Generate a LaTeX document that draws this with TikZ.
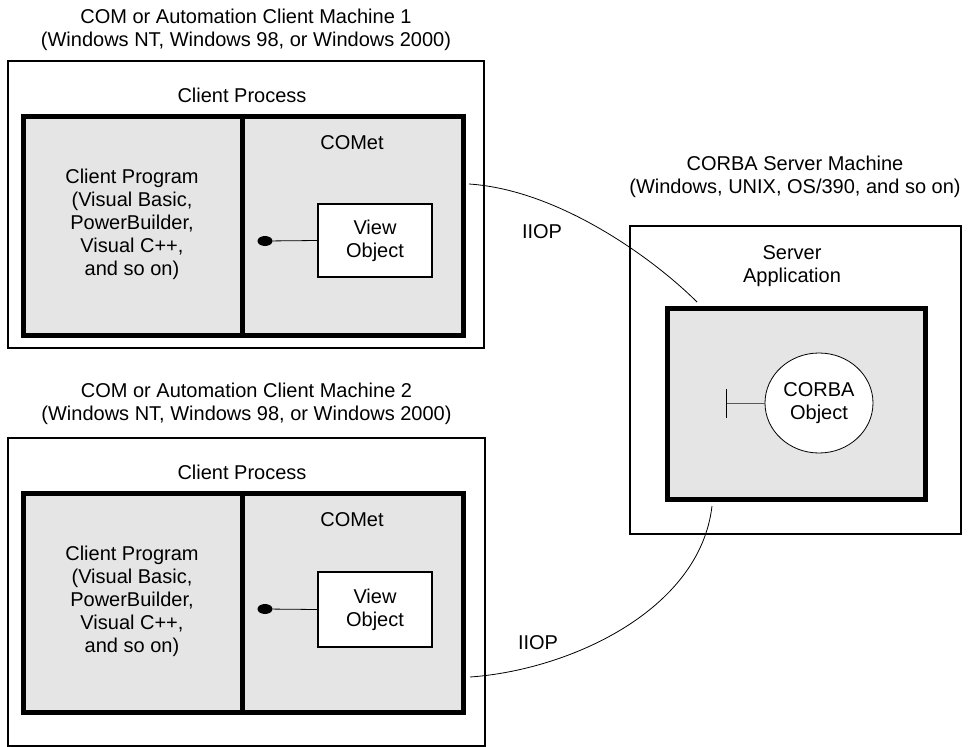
\documentclass[tikz,border=0pt]{standalone}
\usepackage{fontspec}
\setmainfont{Liberation Sans}
\usetikzlibrary{shapes.geometric}

\definecolor{panel}{gray}{0.9}

\begin{document}
\begin{tikzpicture}[x=1pt, y=-1pt,
    every node/.style={font=\fontsize{20}{23}\selectfont, align=center, inner sep=0pt},
    machine/.style={draw, rectangle, line width=1.6pt},
    process/.style={draw, rectangle, fill=panel, line width=5pt},
    viewbox/.style={draw, rectangle, fill=white, line width=1.6pt, minimum width=114pt, minimum height=73pt},
    knob/.style={ellipse, fill=black, minimum width=15pt, minimum height=10pt},
    link/.style={line width=0.8pt}]
    \useasboundingbox (0,0) rectangle (978,747);

    % client machine 1
    \node (title1) at (246,30) {COM or Automation Client Machine 1\\(Windows NT, Windows 98, or Windows 2000)};
    \node[machine, minimum width=476pt, minimum height=287pt] (mach1) at (246,204.5) {};
    \node (cproc1) at (242,95) {Client Process};
    \node[process, minimum width=440pt, minimum height=219pt] (proc1) at (243,225.5) {};
    \coordinate (div1) at (242,0);
    \draw[line width=5pt] (proc1.north -| div1) -- (proc1.south -| div1);
    \node (prog1) at (132,224.5) {Client Program\\(Visual Basic,\\PowerBuilder,\\Visual C++,\\and so on)};
    \node (comet1) at (352,143) {COMet};
    \node[viewbox] (view1) at (375,240.5) {View\\Object};
    \node[knob] (knob1) at (265,241) {};
    \draw[link] (knob1) -- (view1.west);

    % client machine 2
    \node (title2) at (246.5,403.5) {COM or Automation Client Machine 2\\(Windows NT, Windows 98, or Windows 2000)};
    \node[machine, minimum width=477pt, minimum height=308pt] (mach2) at (246.5,592) {};
    \node (cproc2) at (242,472) {Client Process};
    \node[process, minimum width=440pt, minimum height=219pt] (proc2) at (243,602.5) {};
    \coordinate (div2) at (242,0);
    \draw[line width=5pt] (proc2.north -| div2) -- (proc2.south -| div2);
    \node (prog2) at (132,601) {Client Program\\(Visual Basic,\\PowerBuilder,\\Visual C++,\\and so on)};
    \node (comet2) at (352,520) {COMet};
    \node[viewbox, minimum height=75pt] (view2) at (375,609.5) {View\\Object};
    \node[knob] (knob2) at (265,609) {};
    \draw[link] (knob2) -- (view2.west);

    % server machine
    \node (title3) at (795,176.5) {CORBA Server Machine\\(Windows, UNIX, OS/390, and so on)};
    \node[machine, minimum width=331pt, minimum height=308pt] (mach3) at (795.5,380) {};
    \node (sapp) at (792,266) {Server\\Application};
    \node[process, minimum width=258pt, minimum height=191pt] (proc3) at (796,403.5) {};
    \node[ellipse, draw, fill=white, line width=0.8pt, minimum width=108pt, minimum height=100pt] (corba) at (819,403) {CORBA\\Object};
    \coordinate (tee) at (726,403);
    \coordinate (teetop) at (726,389);
    \coordinate (teebot) at (726,418);
    \draw[gray!70!black, line width=1pt] (corba.west) -- (tee);
    \draw[black, line width=1pt] (teetop) -- (teebot);

    % IIOP links
    \coordinate (iiop1a) at (469,184);
    \coordinate (iiop1b) at (697,302);
    \coordinate (iiop2a) at (470,677);
    \coordinate (iiop2b) at (712,506);
    \draw[link] (iiop1a) .. controls (560,190) and (655,260) .. (iiop1b);
    \draw[link] (iiop2a) .. controls (570,670) and (700,610) .. (iiop2b);
    \node (iiop1) at (542,232) {IIOP};
    \node (iiop2) at (538,643) {IIOP};
\end{tikzpicture}
\end{document}
